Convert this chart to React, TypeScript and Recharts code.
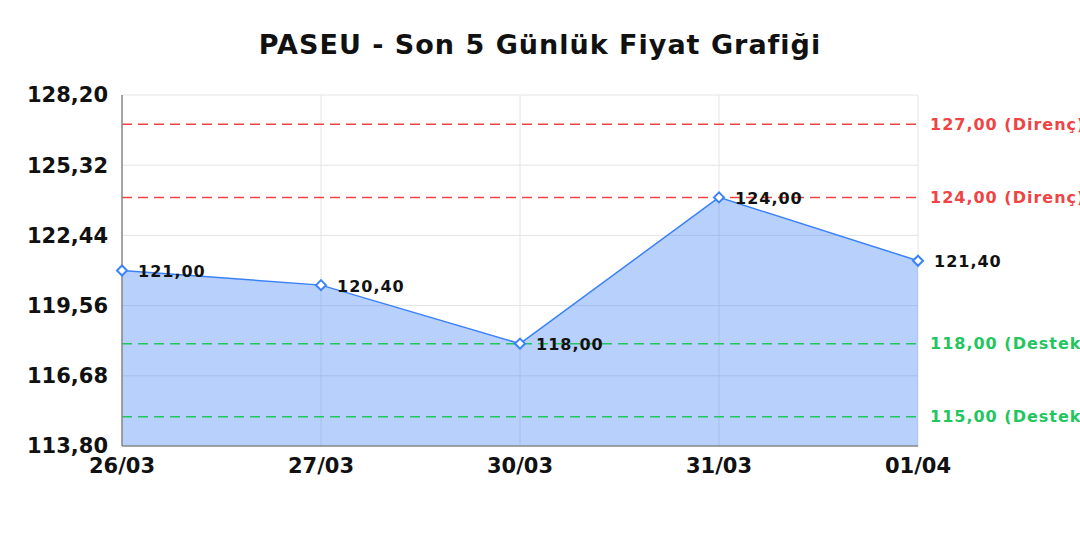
import React from "react";
import {
    AreaChart,
    Area,
    XAxis,
    YAxis,
    CartesianGrid,
    ReferenceLine,
} from "recharts";

const dates = ["26/03", "27/03", "30/03", "31/03", "01/04"];
const prices = [121.0, 120.4, 118.0, 124.0, 121.4];
const yTicks = [113.8, 116.68, 119.56, 122.44, 125.32, 128.2];
const resistance = [127, 124];
const support = [118, 115];

const FONT = "'DejaVu Sans', sans-serif";
const BLUE = "#3b82f6";
const RED = "#ef4444";
const GREEN = "#22c55e";

const fmt = (v: number) => v.toFixed(2).replace(".", ",");

const data = dates.map((d, i) => ({ date: d, price: prices[i] }));

const Diamond = (props: any) => {
    const { cx, cy } = props;
    if (cx == null || cy == null) return null;
    const r = 5;
    return (
        <path
            d={`M${cx},${cy - r} L${cx + r},${cy} L${cx},${cy + r} L${cx - r},${cy} Z`}
            fill="#fff"
            stroke={BLUE}
            strokeWidth={2}
        />
    );
};

const PriceLabel = (props: any) => {
    const { x, y, value } = props;
    return (
        <text
            x={x + 16}
            y={y + 2}
            dominantBaseline="middle"
            fontFamily={FONT}
            fontSize={16}
            fontWeight="bold"
            letterSpacing={1}
            fill="#111"
        >
            {fmt(value)}
        </text>
    );
};

const lineLabel = (text: string, color: string) => ({
    value: text,
    position: "right" as const,
    offset: 12,
    fill: color,
    fontSize: 16,
    fontWeight: "bold",
    fontFamily: FONT,
    letterSpacing: 1,
});

export default function App() {
    return (
        <div
            style={{
                position: "absolute",
                left: 0,
                top: 0,
                width: 1080,
                height: 540,
                background: "#fff",
                fontFamily: FONT,
            }}
        >
            <div
                style={{
                    position: "absolute",
                    top: 28,
                    left: 0,
                    width: 1080,
                    lineHeight: "34px",
                    textAlign: "center",
                    fontSize: 27,
                    fontWeight: "bold",
                    letterSpacing: 1,
                    color: "#111",
                }}
            >
                PASEU - Son 5 Günlük Fiyat Grafiği
            </div>
            <AreaChart
                width={1080}
                height={540}
                data={data}
                margin={{ top: 95, right: 162, bottom: 64, left: 0 }}
            >
                <CartesianGrid stroke="#e4e4e4" strokeWidth={1} />
                <XAxis
                    dataKey="date"
                    interval={0}
                    height={30}
                    tickSize={0}
                    tickMargin={12}
                    tickLine={false}
                    axisLine={{ stroke: "#888", strokeWidth: 1.5 }}
                    tick={{ fill: "#111", fontSize: 21, fontWeight: "bold", fontFamily: FONT }}
                />
                <YAxis
                    type="number"
                    width={122}
                    domain={[113.8, 128.2]}
                    ticks={yTicks}
                    interval={0}
                    allowDataOverflow
                    tickSize={0}
                    tickMargin={14}
                    tickLine={false}
                    tickFormatter={fmt}
                    axisLine={{ stroke: "#888", strokeWidth: 1.5 }}
                    tick={{ fill: "#111", fontSize: 21, fontWeight: "bold", fontFamily: FONT }}
                />
                <Area
                    type="linear"
                    dataKey="price"
                    stroke={BLUE}
                    strokeWidth={1.5}
                    fill={BLUE}
                    fillOpacity={0.37}
                    dot={<Diamond />}
                    activeDot={false}
                    label={<PriceLabel />}
                    isAnimationActive={false}
                />
                {resistance.map((v) => (
                    <ReferenceLine
                        key={"r" + v}
                        y={v}
                        stroke={RED}
                        strokeWidth={1.5}
                        strokeDasharray="10 6"
                        label={lineLabel(`${fmt(v)} (Direnç)`, RED)}
                    />
                ))}
                {support.map((v) => (
                    <ReferenceLine
                        key={"s" + v}
                        y={v}
                        stroke={GREEN}
                        strokeWidth={1.5}
                        strokeDasharray="10 6"
                        label={lineLabel(`${fmt(v)} (Destek)`, GREEN)}
                    />
                ))}
            </AreaChart>
        </div>
    );
}
